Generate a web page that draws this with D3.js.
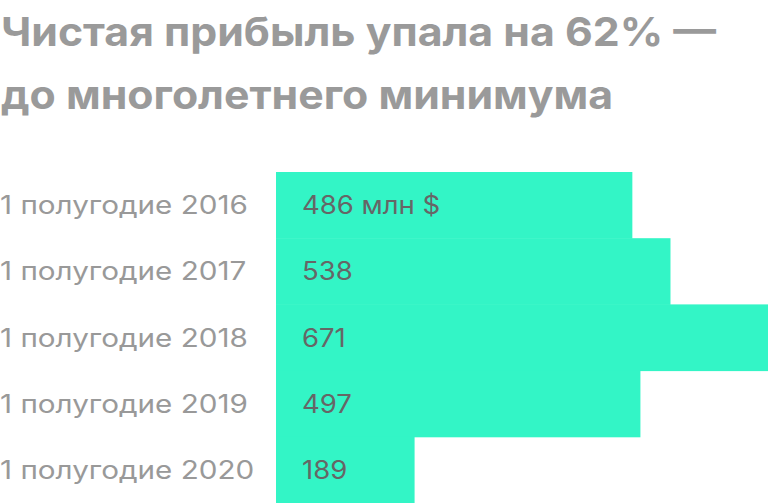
<!DOCTYPE html>
<html>
<head>
<meta charset="utf-8">
<script src="https://cdn.jsdelivr.net/npm/d3@7"></script>
<style>
  html, body { margin: 0; padding: 0; background: #fff; }
  svg { display: block; font-family: Inter, "Noto Sans", sans-serif; }
</style>
</head>
<body>
<svg id="chart" width="768" height="503"></svg>
<script>
const titleLines = ["Чистая прибыль упала на 62% —", "до многолетнего минимума"];
const periods = ["1 полугодие 2016", "1 полугодие 2017", "1 полугодие 2018", "1 полугодие 2019", "1 полугодие 2020"];
const profit = [486, 538, 671, 497, 189];
const valueLabels = ["486 млн $", "538", "671", "497", "189"];

const svg = d3.select("#chart");
const margin = {top: 172, left: 276, right: 0, bottom: 0};
const width = 768, height = 503;

// the original font is wider than Inter, so stretch text a bit horizontally
const titleStretch = 1.07, labelStretch = 1.185, valueStretch = 1.1;

// title
svg.append("g").selectAll("text")
    .data(titleLines)
    .enter().append("text")
    .attr("transform", (d, i) => "translate(1," + (46 + i * 63) + ") scale(" + titleStretch + ",1)")
    .attr("fill", "#9a9a9a")
    .attr("font-size", 40)
    .attr("font-weight", 700)
    .text(d => d);

const x = d3.scaleLinear()
    .domain([0, d3.max(profit)])
    .range([margin.left, width - margin.right]);

const y = d3.scaleBand()
    .domain(periods)
    .range([margin.top, height - margin.bottom])
    .padding(0);

const rows = svg.append("g").selectAll("g")
    .data(periods)
    .enter().append("g");

rows.append("rect")
    .attr("x", x(0))
    .attr("y", d => y(d))
    .attr("width", (d, i) => x(profit[i]) - x(0))
    .attr("height", y.bandwidth() + 0.5)
    .attr("fill", "#33f5c6");

rows.append("text")
    .attr("transform", d => "translate(0," + (y(d) + y.bandwidth() / 2 + 9) + ") scale(" + labelStretch + ",1)")
    .attr("fill", "#999")
    .attr("font-size", 25)
    .text(d => d);

rows.append("text")
    .attr("transform", d => "translate(" + (x(0) + 26) + "," + (y(d) + y.bandwidth() / 2 + 9) + ") scale(" + valueStretch + ",1)")
    .attr("fill", "#666")
    .attr("font-size", 25)
    .text((d, i) => valueLabels[i]);
</script>
</body>
</html>
